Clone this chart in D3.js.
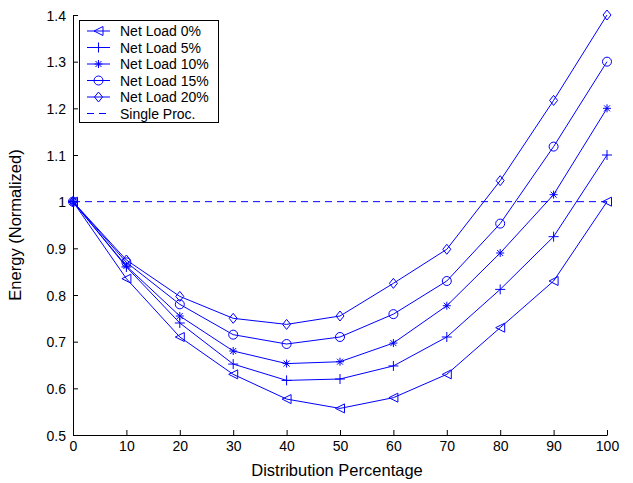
<!DOCTYPE html>
<html>
<head>
<meta charset="utf-8">
<script src="https://d3js.org/d3.v7.min.js"></script>
<style>
  body { margin: 0; background: #fff; }
  svg { display: block; font-family: "Liberation Sans", Arial, sans-serif; }
</style>
</head>
<body>
<div id="chart"></div>
<script>
var distribution = [0, 10, 20, 30, 40, 50, 60, 70, 80, 90, 100];
var seriesNames = ["Net Load 0%", "Net Load 5%", "Net Load 10%", "Net Load 15%", "Net Load 20%"];
var seriesMarkers = ["triangle", "plus", "star", "circle", "diamond"];
var load0 = [1.0, 0.835, 0.71, 0.63, 0.577, 0.557, 0.58, 0.63, 0.73, 0.83, 1.0];
var load5 = [1.0, 0.86, 0.74, 0.652, 0.617, 0.62, 0.648, 0.71, 0.812, 0.925, 1.1];
var load10 = [1.0, 0.862, 0.755, 0.68, 0.653, 0.657, 0.697, 0.777, 0.89, 1.015, 1.2];
var load15 = [1.0, 0.87, 0.78, 0.715, 0.695, 0.71, 0.759, 0.83, 0.953, 1.118, 1.3];
var load20 = [1.0, 0.875, 0.797, 0.75, 0.737, 0.755, 0.825, 0.898, 1.045, 1.217, 1.4];
var singleProc = 1.0;
var xTicks = [0, 10, 20, 30, 40, 50, 60, 70, 80, 90, 100];
var yTicks = [0.5, 0.6, 0.7, 0.8, 0.9, 1.0, 1.1, 1.2, 1.3, 1.4];

var width = 633, height = 483;
var margin = { left: 73, right: 26, top: 15, bottom: 48 };
var blue = "#0000ff";

var svg = d3.select("#chart").append("svg")
    .attr("width", width)
    .attr("height", height);

var x = d3.scaleLinear().domain([0, 100]).range([margin.left, width - margin.right]);
var y = d3.scaleLinear().domain([0.5, 1.4]).range([height - margin.bottom, margin.top]);

// axes (matlab style, ticks pointing inward)
var xAxis = d3.axisBottom(x).tickValues(xTicks).tickSizeInner(-5).tickSizeOuter(0)
    .tickPadding(11).tickFormat(d3.format("d"));
var yAxis = d3.axisLeft(y).tickValues(yTicks).tickSizeInner(-5).tickSizeOuter(0)
    .tickPadding(7).tickFormat(function (d) { return d === 1 ? "1" : d3.format(".1f")(d); });

var gx = svg.append("g").attr("transform", "translate(0," + (height - margin.bottom) + ")").call(xAxis);
var gy = svg.append("g").attr("transform", "translate(" + margin.left + ",0)").call(yAxis);
[gx, gy].forEach(function (g) {
    g.selectAll("text").style("font-size", "14px").style("fill", "#000");
    g.selectAll("line, path").style("stroke", "#000");
});
gx.selectAll("text").attr("dy", "0.35em");
gy.selectAll("text").attr("dy", "0.36em");

svg.append("text")
    .attr("x", 337)
    .attr("y", 476)
    .attr("text-anchor", "middle")
    .style("font-size", "16.5px")
    .text("Distribution Percentage");

svg.append("text")
    .attr("transform", "translate(21," + y(0.95) + ") rotate(-90)")
    .attr("text-anchor", "middle")
    .style("font-size", "16.5px")
    .text("Energy (Normalized)");

// markers
function drawMarker(g, type, cx, cy) {
    var s;
    if (type === "triangle") {
        s = 4.5;
        g.append("path").attr("d", "M" + (cx - s) + "," + cy + "L" + (cx + s) + "," + (cy - s) + "L" + (cx + s) + "," + (cy + s) + "Z");
    } else if (type === "plus") {
        s = 5;
        g.append("path").attr("d", "M" + (cx - s) + "," + cy + "H" + (cx + s) + "M" + cx + "," + (cy - s) + "V" + (cy + s));
    } else if (type === "star") {
        s = 4;
        var d = s * 0.75;
        g.append("path").attr("d", "M" + (cx - s) + "," + cy + "H" + (cx + s) + "M" + cx + "," + (cy - s) + "V" + (cy + s) +
            "M" + (cx - d) + "," + (cy - d) + "L" + (cx + d) + "," + (cy + d) +
            "M" + (cx - d) + "," + (cy + d) + "L" + (cx + d) + "," + (cy - d));
    } else if (type === "circle") {
        g.append("circle").attr("cx", cx).attr("cy", cy).attr("r", 4.5);
    } else if (type === "diamond") {
        s = 5;
        g.append("path").attr("d", "M" + cx + "," + (cy - s) + "L" + (cx + 4) + "," + cy + "L" + cx + "," + (cy + s) + "L" + (cx - 4) + "," + cy + "Z");
    }
}

// single processor reference
svg.append("line")
    .attr("x1", x(0)).attr("x2", x(100))
    .attr("y1", y(singleProc)).attr("y2", y(singleProc))
    .style("stroke", blue).style("stroke-width", 1).style("stroke-dasharray", "7,5");

var allSeries = [load0, load5, load10, load15, load20];
var line = d3.line()
    .x(function (d, i) { return x(distribution[i]); })
    .y(function (d) { return y(d); });

allSeries.forEach(function (vals, k) {
    svg.append("path")
        .datum(vals)
        .attr("d", line)
        .style("fill", "none").style("stroke", blue).style("stroke-width", 1);
    var mg = svg.append("g").style("fill", "none").style("stroke", blue).style("stroke-width", 1);
    vals.forEach(function (v, i) {
        drawMarker(mg, seriesMarkers[k], x(distribution[i]), y(v));
    });
});

// legend
var leg = svg.append("g");
leg.append("rect")
    .attr("x", 79.5).attr("y", 20.5).attr("width", 139).attr("height", 102)
    .style("fill", "#fff").style("stroke", "#000").style("stroke-width", 1);
var rowY = function (i) { return 31 + i * 16.5; };
seriesNames.forEach(function (name, k) {
    var ry = rowY(k);
    leg.append("line").attr("x1", 87).attr("x2", 110).attr("y1", ry).attr("y2", ry)
        .style("stroke", blue).style("stroke-width", 1);
    var mg = leg.append("g").style("fill", "none").style("stroke", blue).style("stroke-width", 1);
    drawMarker(mg, seriesMarkers[k], 98.5, ry);
    leg.append("text").attr("x", 120).attr("y", ry).attr("dy", "0.36em")
        .style("font-size", "14px").text(name);
});
var sy = rowY(5);
leg.append("line").attr("x1", 87).attr("x2", 110).attr("y1", sy).attr("y2", sy)
    .style("stroke", blue).style("stroke-width", 1).style("stroke-dasharray", "7,5");
leg.append("text").attr("x", 120).attr("y", sy).attr("dy", "0.36em")
    .style("font-size", "14px").text("Single Proc.");
</script>
</body>
</html>
